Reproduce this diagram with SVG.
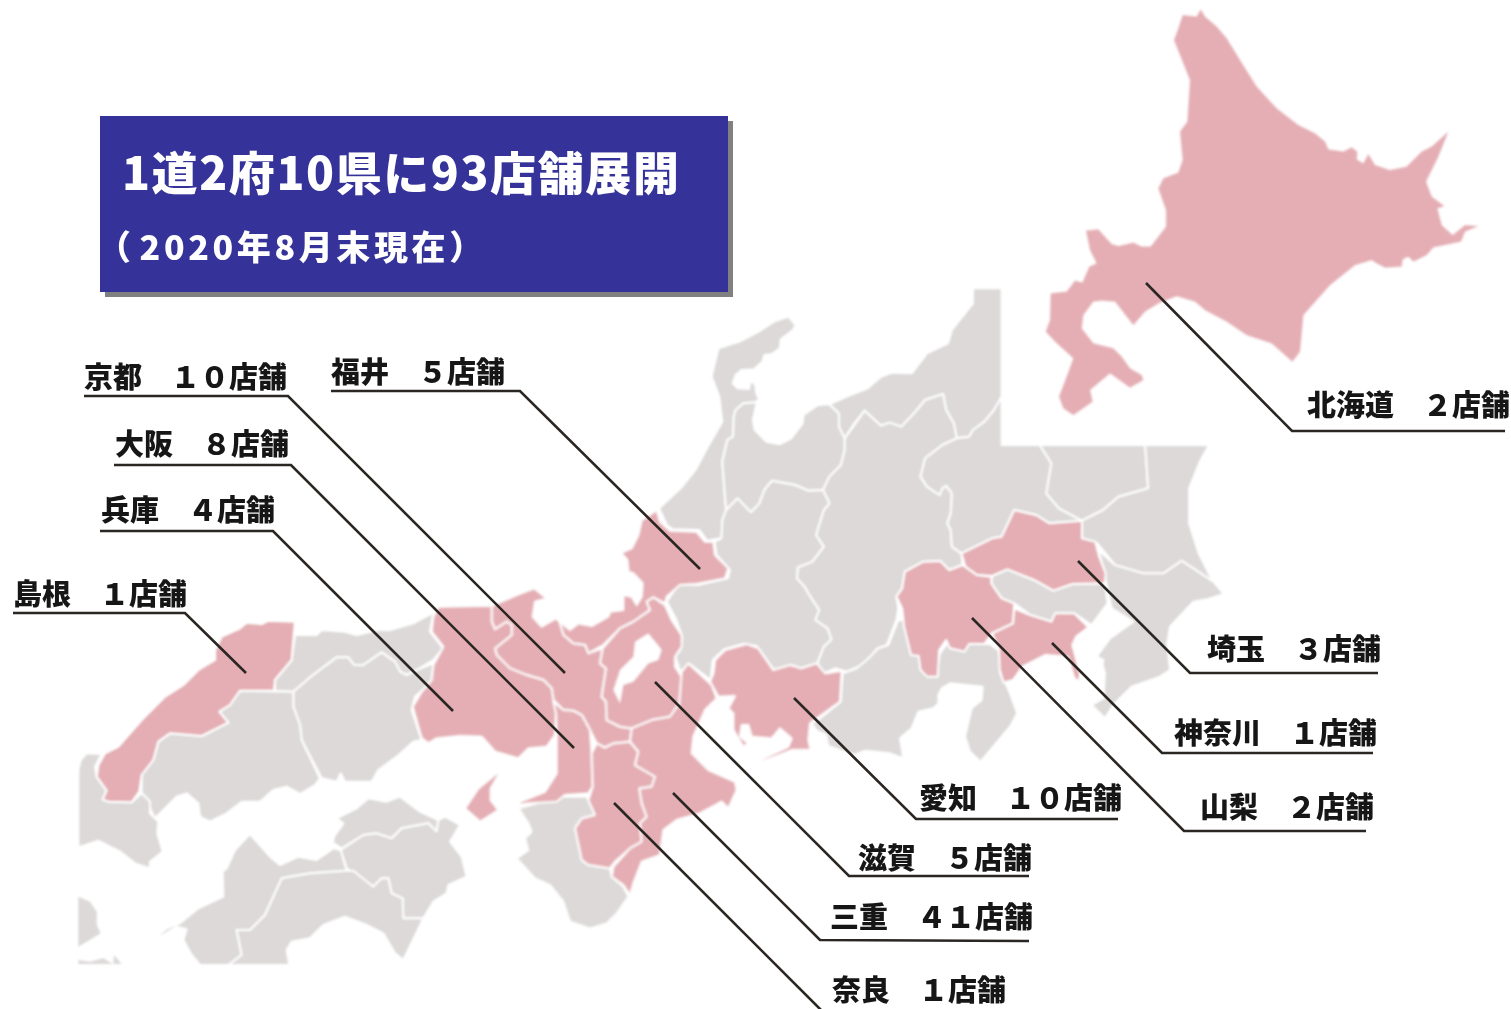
<svg xmlns="http://www.w3.org/2000/svg" width="1511" height="1009" viewBox="0 0 1511 1009">
<style>
.g{fill:#dcd9d8;stroke:#fff;stroke-width:2;stroke-linejoin:round;vector-effect:non-scaling-stroke}
.p{fill:#e4aeb4;stroke:#fff;stroke-width:2;stroke-linejoin:round;vector-effect:non-scaling-stroke}
.n{stroke:none}
.w{fill:#fff;stroke:none}
.l{fill:none;stroke:#2b2523;stroke-width:2.6;stroke-linejoin:miter}
text{font-family:"Noto Sans CJK JP","Liberation Sans",sans-serif;font-weight:900}
.t{font-size:29px;fill:#141414}
.h{fill:#fff;font-size:46px;letter-spacing:1.6px}
.s{fill:#fff;font-size:34px;letter-spacing:3.6px}
</style>
<defs>
<filter id="soft" filterUnits="userSpaceOnUse" x="0" y="0" width="1511" height="1009"><feGaussianBlur stdDeviation="0.8"/></filter>
<filter id="fine" filterUnits="userSpaceOnUse" x="0" y="0" width="1511" height="1009"><feGaussianBlur stdDeviation="0.4"/></filter>
</defs>
<g id="title">
<rect x="105" y="121" width="628" height="176" fill="#808080"/>
<rect x="100" y="116" width="628" height="176" fill="#353399"/>
<text class="h" x="122" y="190" filter="url(#fine)">1道2府10県に93店舗展開</text>
<text class="s" x="97" y="260" filter="url(#fine)">（<tspan dx="5">2020年8月末現在</tspan>）</text>
</g>
<g id="map" filter="url(#soft)">
<g id="map-west" transform="translate(70 600) scale(.33333)">
<polygon id="tottori" class="g" points="675,105 740,105 755,90 825,95 860,105 925,90 960,90 1030,70 1090,38 1080,95 1120,145 1090,180 1040,210 1010,225 990,215 975,185 935,157 880,195 852,195 835,172 800,172 725,228 670,275 615,272 615,240 665,180"/>
<polygon id="okayama" class="g" points="670,275 725,228 800,172 835,172 852,195 880,195 935,157 975,185 990,215 1010,225 1040,210 1090,190 1085,245 1035,290 1025,330 1055,420 1030,425 980,470 925,510 905,545 825,545 812,520 800,545 755,535 695,420 690,375 670,320"/>
<polygon id="hiroshima" class="g" points="510,272 670,275 670,320 690,375 695,420 750,535 735,555 690,582 650,560 610,570 570,605 515,605 470,640 420,665 390,650 385,610 350,580 320,590 255,655 240,625 240,605 215,580 215,525 250,480 265,425 300,400 395,408 475,368 448,335 480,315"/>
<polygon id="yamaguchi" class="g" points="95,462 50,460 32,480 25,510 25,742 85,722 150,755 195,790 240,805 240,785 278,755 262,700 265,665 240,640 240,605 215,580 185,607 115,605 98,598 110,572 80,530 75,500"/>
<polygon id="kagawa" class="g" points="800,655 860,625 895,595 950,605 990,590 1050,635 1105,660 1100,695 1075,670 995,685 965,715 920,700 880,705 815,745 788,728 792,710 820,670"/>
<polygon id="tokushima" class="g" points="1125,650 1170,675 1140,725 1175,770 1190,830 1135,855 1130,880 1090,905 1060,955 1000,955 998,895 965,880 955,835 935,835 910,860 840,812 830,805 812,750 880,705 920,700 965,715 995,685 1075,670 1100,695 1105,660"/>
<polygon id="ehime" class="g" points="812,750 790,745 740,780 685,770 630,795 600,770 540,702 495,750 470,805 458,815 460,890 385,925 330,970 290,985 240,1030 320,980 350,988 340,1020 365,1065 390,1095 475,1095 515,1065 500,990 540,990 585,945 635,835 720,820 830,812"/>
<polygon id="kochi" class="g" points="635,835 720,820 830,812 850,812 910,860 935,835 955,835 965,880 998,895 1000,955 1060,955 1000,1080 975,1060 940,1000 890,975 825,950 760,975 720,1015 665,1025 650,1050 658,1095 475,1095 515,1065 500,990 540,990 585,945"/>
<polygon id="kyushu-a" class="g n" points="25,890 60,905 80,935 80,975 92,1000 50,1025 25,1040"/>
<polygon id="kyushu-b" class="g n" points="25,1080 60,1085 100,1075 128,1092 25,1092"/>
<polygon id="kyushu-c" class="g n" points="132,1065 155,1092 130,1092"/>
<polygon id="shimane" class="p" points="675,65 665,180 615,240 612,272 510,272 480,315 448,335 475,368 395,408 300,400 265,425 250,480 215,525 208,575 185,607 115,605 98,598 110,572 80,530 85,495 105,460 145,440 215,360 285,290 340,255 385,210 435,180 435,150 455,110 510,85 530,68 575,72 595,62"/>
</g>
<g id="map-central" transform="translate(640 280) scale(.38267 .33333)">
<polygon id="ishikawa" class="g" points="388,110 407,135 400,150 368,178 365,205 345,222 325,225 320,245 298,268 265,270 250,285 242,310 255,325 285,327 288,305 300,310 305,345 312,355 302,367 270,370 250,390 245,410 243,470 228,480 215,545 222,650 225,690 215,720 213,775 175,782 155,750 85,748 70,735 50,685 110,620 145,570 175,505 215,425 207,350 187,290 205,205 260,185 310,155 350,125"/>
<polygon id="toyama" class="g" points="305,367 295,420 300,450 330,485 365,493 395,475 425,430 427,405 465,375 495,373 520,400 520,440 535,475 535,510 525,555 495,590 478,630 440,632 405,615 345,602 325,630 312,670 290,697 255,655 225,690 222,650 215,545 228,480 243,470 245,410 250,390 270,370"/>
<polygon id="niigata" class="g" points="495,373 540,350 595,325 630,290 660,278 710,280 750,220 805,190 815,150 870,70 870,25 945,25 945,350 925,390 900,425 870,450 860,470 828,475 820,430 800,390 792,342 745,360 720,395 683,440 652,428 630,437 587,392 560,430 535,475 520,440 520,400"/>
<polygon id="nagano" class="g" points="535,475 587,392 630,437 652,428 683,440 720,395 745,360 792,342 800,390 820,430 828,475 790,495 745,535 733,590 750,620 783,645 790,625 800,617 815,640 812,700 803,730 812,750 815,800 840,820 843,855 808,870 785,843 740,845 692,875 685,925 670,950 675,985 670,1020 645,1095 620,1105 590,1150 540,1175 510,1165 480,1180 463,1150 480,1100 500,1078 490,1045 458,1020 468,990 445,950 430,920 410,895 412,862 450,845 480,800 460,765 480,690 495,670 478,630 495,590 525,555 535,510"/>
<polygon id="gifu" class="g" points="225,690 255,655 290,697 312,670 325,630 345,602 405,615 440,632 478,630 495,670 480,690 460,765 480,800 450,845 412,862 410,895 430,920 445,950 468,990 458,1020 490,1045 500,1078 480,1100 463,1150 420,1165 395,1155 350,1170 305,1098 270,1092 220,1108 190,1140 185,1200 130,1152 105,1175 92,1130 105,1110 110,1070 95,1020 70,965 100,912 150,915 230,895 235,870 200,825 195,785 213,775 215,720"/>
<polygon id="gunma" class="g" points="828,475 860,470 870,450 900,425 925,390 945,350 945,495 1045,495 1075,550 1062,640 1095,685 1155,722 1070,730 1035,705 978,690 945,770 920,775 840,820 815,800 812,750 803,730 812,700 815,640 800,617 790,625 783,645 750,620 733,590 745,535 790,495"/>
<polygon id="tochigi" class="g" points="1045,495 1320,495 1328,625 1250,650 1210,690 1155,722 1095,685 1062,640 1075,550"/>
<polygon id="ibaraki" class="g" points="1320,495 1487,495 1465,540 1435,625 1435,730 1460,820 1497,905 1415,845 1375,885 1320,885 1245,860 1195,790 1155,775 1155,722 1210,690 1250,650 1328,625"/>
<polygon id="tokyo" class="g" points="920,888 960,868 1030,900 1080,932 1130,912 1215,910 1222,970 1180,1035 1135,1000 1085,1000 1075,1025 1020,1005 978,970 945,955 918,910"/>
</g>
<g id="map-south" transform="translate(810 620) scale(.33333)">
<polygon id="shizuoka" class="g" points="265,0 285,0 295,70 325,105 338,150 360,170 378,165 390,100 415,65 420,85 460,90 470,72 540,72 570,95 570,160 585,185 600,220 622,280 600,320 512,425 480,395 465,350 485,265 515,240 518,200 420,190 395,205 385,225 385,250 370,265 325,275 305,325 270,355 280,415 240,400 165,392 135,405 100,395 55,378 48,345 20,332 5,310 30,295 92,245 98,160 140,145 170,120 205,85 235,75"/>
</g>
<g id="map-chiba" transform="translate(1060 540) scale(.33333)">
<polygon id="chiba" class="g" points="115,30 165,75 250,100 310,100 365,62 460,125 492,162 440,178 400,185 330,260 322,310 330,390 300,410 215,440 160,495 135,535 95,495 130,475 135,400 128,375 130,360 110,350 150,295 220,245 155,205 145,160 140,135 130,85"/>
</g>
<g id="map-kanto-pink" transform="translate(640 280) scale(.38267 .33333)">
<polygon id="saitama" class="p" points="840,820 920,775 945,770 978,690 1035,705 1070,730 1155,722 1155,775 1190,785 1200,830 1217,880 1215,910 1130,912 1080,932 1030,900 960,868 920,888 880,885 850,860"/>
<polygon id="yamanashi" class="p" points="692,875 740,845 785,843 808,870 843,855 880,885 918,890 918,910 945,955 978,970 975,1030 920,1060 900,1092 860,1092 848,1115 810,1105 800,1080 782,1110 778,1190 750,1190 733,1170 728,1128 708,1125 690,1040 685,985 670,950 685,925"/>
<polygon id="kanagawa" class="p" points="978,985 1020,1005 1075,1025 1085,1000 1135,1000 1172,1042 1140,1070 1130,1095 1150,1180 1148,1205 1135,1195 1118,1130 1060,1125 1000,1160 975,1200 950,1208 940,1170 938,1110 920,1060 975,1030"/>
</g>
<g id="map-kansai" transform="translate(400 480) scale(.33333)">
<polygon id="wakayama" class="g" points="355,985 480,950 560,950 565,960 585,1005 545,1015 525,1045 545,1140 565,1155 630,1165 635,1190 670,1220 685,1250 650,1300 620,1330 570,1345 510,1325 490,1265 450,1215 405,1195 350,1135 385,1110 375,1075 395,1055 385,1030"/>
<polygon id="fukui" class="p" points="770,90 780,125 810,152 890,155 915,185 940,185 945,225 985,265 975,295 890,312 840,315 800,350 795,370 760,352 740,365 750,390 700,425 660,445 610,495 565,520 555,495 520,490 490,465 478,425 510,450 535,430 575,438 625,410 630,395 670,390 670,345 695,350 710,375 725,350 728,310 700,280 685,275 682,240 663,218 695,205 715,165 725,120"/>
<polygon id="kyoto" class="p" points="275,377 350,345 403,325 440,355 405,365 398,410 425,440 468,415 478,425 490,465 520,490 555,495 565,520 608,505 600,550 618,565 605,650 618,665 620,720 660,740 695,745 690,785 640,790 615,803 590,790 570,750 545,705 520,692 490,690 460,660 455,625 430,600 380,585 330,565 290,525 285,505 335,465 335,435 320,425 285,448 275,425"/>
<polygon id="hyogo" class="p" points="115,380 275,377 275,425 285,448 320,425 335,435 335,465 285,505 290,525 330,565 380,585 430,600 455,625 460,660 468,700 465,765 440,800 385,805 355,835 285,815 245,770 180,768 110,775 85,790 65,775 38,680 65,635 95,600 100,555 130,500 95,455 100,410"/>
<polygon id="awaji" class="p" points="305,868 272,925 272,960 295,990 240,1025 195,985 235,925"/>
<polygon id="osaka" class="p" points="460,665 490,690 520,692 545,705 570,750 575,820 578,920 565,940 495,945 470,965 380,970 358,975 360,965 435,935 470,880 470,770 468,700"/>
<polygon id="shiga" class="p" points="760,352 795,375 815,420 845,465 845,500 825,530 825,560 845,590 838,670 810,710 755,720 695,745 660,740 620,720 618,665 605,650 618,565 600,550 608,505 660,445 700,425 750,390 740,365"/>
<polygon id="biwa" class="w" points="745,460 770,490 785,510 775,540 745,550 700,605 670,615 660,670 640,630 660,570 700,530 705,485"/>
<polygon id="nara" class="p" points="640,790 690,785 715,815 705,855 765,890 755,920 718,925 725,970 740,1010 720,1030 725,1085 690,1105 645,1145 630,1165 565,1155 545,1140 525,1045 545,1015 585,1005 565,960 578,920 575,820 590,790 615,803"/>
<polygon id="mie" class="p" points="845,575 865,550 935,615 950,655 915,690 880,770 875,820 925,870 1005,905 1010,930 985,985 965,965 900,1000 830,1020 790,1050 780,1125 725,1145 700,1210 690,1245 670,1215 635,1190 640,1160 690,1105 725,1085 720,1030 740,1010 725,970 718,925 755,920 765,890 705,855 715,815 690,785 695,745 755,720 810,710 838,670"/>
<polygon id="aichi" class="p" points="945,540 975,510 1040,492 1075,505 1120,570 1170,555 1205,565 1250,550 1275,580 1325,572 1320,665 1230,730 1225,780 1232,810 1175,810 1085,845 1080,840 1165,800 1175,775 1140,745 1115,775 1055,770 1045,735 1025,735 1020,770 1045,790 1030,800 1000,750 1000,700 985,685 1005,648 955,650 930,605 940,580"/>
</g>
<g id="map-hokkaido" transform="translate(1030 0) scale(.33333)">
<polygon id="hokkaido" class="p n" points="512,28 525,50 560,80 590,115 630,180 680,260 740,325 805,375 855,400 885,425 895,448 940,455 965,442 982,455 980,478 1000,490 1015,462 1035,495 1080,510 1130,500 1175,455 1205,440 1255,395 1225,470 1188,545 1205,590 1243,618 1222,625 1235,675 1268,705 1305,675 1345,678 1305,695 1293,725 1210,742 1190,765 1150,785 1135,770 1118,778 1115,800 1065,803 1040,790 1025,780 975,795 900,855 820,945 810,1055 787,1085 725,1030 650,1005 590,965 525,930 495,905 440,888 385,910 345,935 310,975 255,905 215,902 190,905 160,945 155,985 190,1030 250,1045 275,1070 300,1105 335,1125 340,1140 300,1163 240,1120 180,1170 188,1205 130,1245 100,1225 87,1190 110,1130 130,1075 75,1025 47,995 60,960 62,880 110,875 135,842 157,848 178,800 200,790 180,750 168,692 205,688 245,732 265,738 310,728 335,740 362,740 408,680 408,630 385,565 400,535 445,518 458,480 450,395 472,365 480,240 432,120 445,85 458,45 500,50"/>
</g>
</g>
<g id="connectors" filter="url(#fine)">
<polyline class="l" points="84,396 288,396 565,673"/>
<polyline class="l" points="331,391 520,391 700,569"/>
<polyline class="l" points="114,465 291,465 574,748"/>
<polyline class="l" points="100,531 273,531 453,711"/>
<polyline class="l" points="13,613 185,613 246,673"/>
<polyline class="l" points="1146,283 1292,431 1505,431"/>
<polyline class="l" points="1078,561 1190,673 1378,673"/>
<polyline class="l" points="1052,643 1162,753 1373,753"/>
<polyline class="l" points="972,618 1184,831 1366,831"/>
<polyline class="l" points="794,698 916,819 1118,819"/>
<polyline class="l" points="655,682 849,876 1029,876"/>
<polyline class="l" points="673,793 820,940 1029,941"/>
<polyline class="l" points="614,803 822,1011"/>
</g>
<g id="labels" filter="url(#fine)">
<g id="label-kyoto"><text class="t" x="84" y="388">京都　１０店舗</text></g>
<g id="label-fukui"><text class="t" x="331" y="383">福井　５店舗</text></g>
<g id="label-osaka"><text class="t" x="115" y="455">大阪　８店舗</text></g>
<g id="label-hyogo"><text class="t" x="101" y="521">兵庫　４店舗</text></g>
<g id="label-shimane"><text class="t" x="13" y="605">島根　１店舗</text></g>
<g id="label-hokkaido"><text class="t" x="1307" y="416">北海道　２店舗</text></g>
<g id="label-saitama"><text class="t" x="1207" y="660">埼玉　３店舗</text></g>
<g id="label-kanagawa"><text class="t" x="1174" y="744">神奈川　１店舗</text></g>
<g id="label-yamanashi"><text class="t" x="1200" y="818">山梨　２店舗</text></g>
<g id="label-aichi"><text class="t" x="919" y="809">愛知　１０店舗</text></g>
<g id="label-shiga"><text class="t" x="858" y="869">滋賀　５店舗</text></g>
<g id="label-mie"><text class="t" x="830" y="928">三重　４１店舗</text></g>
<g id="label-nara"><text class="t" x="832" y="1001">奈良　１店舗</text></g>
</g>
</svg>
